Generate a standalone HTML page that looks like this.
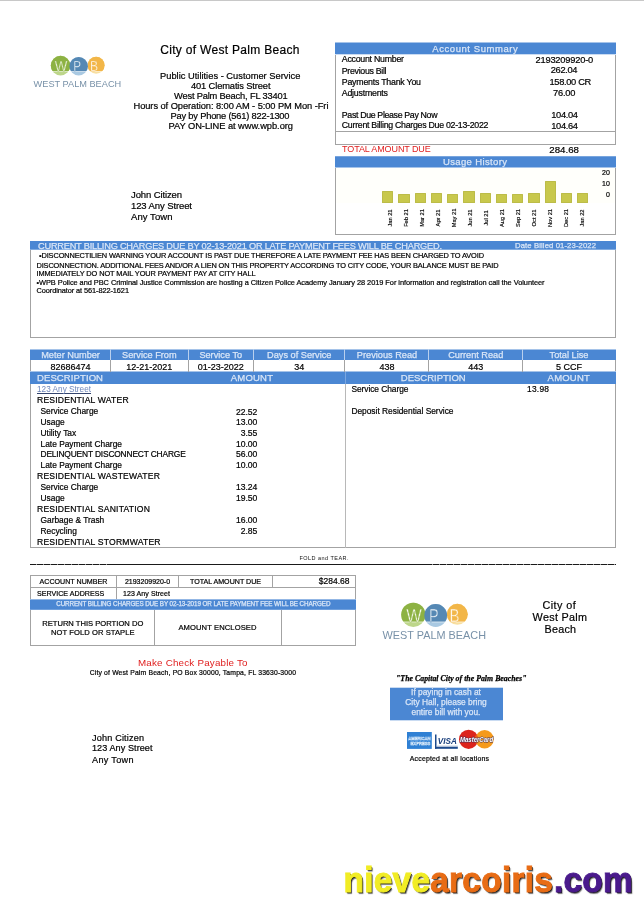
<!DOCTYPE html><html><head><meta charset="utf-8"><title>City of West Palm Beach Utility Bill</title><style>
html,body{margin:0;padding:0;background:#fff;}body{width:644px;height:915px;position:relative;overflow:hidden;font-family:"Liberation Sans",sans-serif;}
.r{position:absolute;box-sizing:border-box;}.t{position:absolute;white-space:nowrap;line-height:1;}
.wm{text-shadow:1px 1px 0 #222,1.6px 1.6px 1px rgba(0,0,0,.55);}
.k{-webkit-text-stroke:0.2px #000;}
.h{-webkit-text-stroke:0.25px #d9e6f7;}

</style></head><body>
<div class="r" style="left:0px;top:0px;width:644px;height:1px;background:#c8c8c8;"></div>
<div class="r" style="left:335px;top:43px;width:281px;height:101.5px;border:1px solid #a3a3a3;"></div>
<div class="r" style="left:335px;top:43px;width:281px;height:11px;background:#4b87d3;"></div>
<div class="r" style="left:335px;top:42px;width:281px;height:1px;background:#a5c3e9;"></div>
<div class="r" style="left:335px;top:54px;width:281px;height:1px;background:#c9dbf2;"></div>
<div class="r" style="left:335px;top:131px;width:281px;height:1px;background:#a3a3a3;"></div>
<div class="r" style="left:335px;top:156px;width:281px;height:78.5px;border:1px solid #a3a3a3;"></div>
<div class="r" style="left:335px;top:157px;width:281px;height:10px;background:#4b87d3;"></div>
<div class="r" style="left:335px;top:156px;width:281px;height:1px;background:#78a5de;"></div>
<div class="r" style="left:335px;top:167px;width:281px;height:1px;background:#a5c3e9;"></div>
<div class="r" style="left:336px;top:167.5px;width:279px;height:35px;background:#fffffb;"></div>
<div class="r" style="left:382.0px;top:190.75px;width:11.25px;height:11.75px;background:#c8c84c;border:0.5px solid #bcbc48;border-radius:0.5px;"></div>
<div class="t mon" style="left:370.50px;top:215.00px;width:40px;height:6px;font-size:5.7px;text-align:center;transform:rotate(-90deg);color:#000;-webkit-text-stroke:0.15px #000;">Jan 21</div>
<div class="r" style="left:398.25px;top:194.25px;width:11.25px;height:8.25px;background:#c8c84c;border:0.5px solid #bcbc48;border-radius:0.5px;"></div>
<div class="t mon" style="left:386.50px;top:215.00px;width:40px;height:6px;font-size:5.7px;text-align:center;transform:rotate(-90deg);color:#000;-webkit-text-stroke:0.15px #000;">Feb 21</div>
<div class="r" style="left:414.5px;top:192.5px;width:11.25px;height:10.0px;background:#c8c84c;border:0.5px solid #bcbc48;border-radius:0.5px;"></div>
<div class="t mon" style="left:402.50px;top:215.00px;width:40px;height:6px;font-size:5.7px;text-align:center;transform:rotate(-90deg);color:#000;-webkit-text-stroke:0.15px #000;">Mar 21</div>
<div class="r" style="left:430.75px;top:192.5px;width:11.25px;height:10.0px;background:#c8c84c;border:0.5px solid #bcbc48;border-radius:0.5px;"></div>
<div class="t mon" style="left:418.50px;top:215.00px;width:40px;height:6px;font-size:5.7px;text-align:center;transform:rotate(-90deg);color:#000;-webkit-text-stroke:0.15px #000;">Apr 21</div>
<div class="r" style="left:447.0px;top:194.25px;width:11.25px;height:8.25px;background:#c8c84c;border:0.5px solid #bcbc48;border-radius:0.5px;"></div>
<div class="t mon" style="left:434.50px;top:215.00px;width:40px;height:6px;font-size:5.7px;text-align:center;transform:rotate(-90deg);color:#000;-webkit-text-stroke:0.15px #000;">May 21</div>
<div class="r" style="left:463.25px;top:190.75px;width:11.25px;height:11.75px;background:#c8c84c;border:0.5px solid #bcbc48;border-radius:0.5px;"></div>
<div class="t mon" style="left:450.50px;top:215.00px;width:40px;height:6px;font-size:5.7px;text-align:center;transform:rotate(-90deg);color:#000;-webkit-text-stroke:0.15px #000;">Jun 21</div>
<div class="r" style="left:479.5px;top:192.5px;width:11.25px;height:10.0px;background:#c8c84c;border:0.5px solid #bcbc48;border-radius:0.5px;"></div>
<div class="t mon" style="left:466.50px;top:215.00px;width:40px;height:6px;font-size:5.7px;text-align:center;transform:rotate(-90deg);color:#000;-webkit-text-stroke:0.15px #000;">Jul 21</div>
<div class="r" style="left:495.75px;top:194.25px;width:11.25px;height:8.25px;background:#c8c84c;border:0.5px solid #bcbc48;border-radius:0.5px;"></div>
<div class="t mon" style="left:482.50px;top:215.00px;width:40px;height:6px;font-size:5.7px;text-align:center;transform:rotate(-90deg);color:#000;-webkit-text-stroke:0.15px #000;">Aug 21</div>
<div class="r" style="left:512.0px;top:194.25px;width:11.25px;height:8.25px;background:#c8c84c;border:0.5px solid #bcbc48;border-radius:0.5px;"></div>
<div class="t mon" style="left:498.50px;top:215.00px;width:40px;height:6px;font-size:5.7px;text-align:center;transform:rotate(-90deg);color:#000;-webkit-text-stroke:0.15px #000;">Sep 21</div>
<div class="r" style="left:528.25px;top:192.5px;width:11.25px;height:10.0px;background:#c8c84c;border:0.5px solid #bcbc48;border-radius:0.5px;"></div>
<div class="t mon" style="left:514.50px;top:215.00px;width:40px;height:6px;font-size:5.7px;text-align:center;transform:rotate(-90deg);color:#000;-webkit-text-stroke:0.15px #000;">Oct 21</div>
<div class="r" style="left:544.5px;top:181.25px;width:11.25px;height:21.25px;background:#c8c84c;border:0.5px solid #bcbc48;border-radius:0.5px;"></div>
<div class="t mon" style="left:530.50px;top:215.00px;width:40px;height:6px;font-size:5.7px;text-align:center;transform:rotate(-90deg);color:#000;-webkit-text-stroke:0.15px #000;">Nov 21</div>
<div class="r" style="left:560.75px;top:192.5px;width:11.25px;height:10.0px;background:#c8c84c;border:0.5px solid #bcbc48;border-radius:0.5px;"></div>
<div class="t mon" style="left:546.50px;top:215.00px;width:40px;height:6px;font-size:5.7px;text-align:center;transform:rotate(-90deg);color:#000;-webkit-text-stroke:0.15px #000;">Dec 21</div>
<div class="r" style="left:577.0px;top:192.5px;width:11.25px;height:10.0px;background:#c8c84c;border:0.5px solid #bcbc48;border-radius:0.5px;"></div>
<div class="t mon" style="left:562.50px;top:215.00px;width:40px;height:6px;font-size:5.7px;text-align:center;transform:rotate(-90deg);color:#000;-webkit-text-stroke:0.15px #000;">Jan 22</div>
<div class="r" style="left:30px;top:241px;width:586px;height:97px;border:1px solid #a3a3a3;"></div>
<div class="r" style="left:30px;top:241px;width:586px;height:8px;background:#4b87d3;"></div>
<div class="r" style="left:30px;top:249px;width:586px;height:1px;background:#81abe0;"></div>
<div class="r" style="left:30px;top:349px;width:586px;height:199px;border:1px solid #a3a3a3;"></div>
<div class="r" style="left:30px;top:350px;width:586px;height:10px;background:#4b87d3;"></div>
<div class="r" style="left:30px;top:349px;width:586px;height:1px;background:#a5c3e9;"></div>
<div class="r" style="left:30px;top:372px;width:586px;height:12px;background:#4b87d3;"></div>
<div class="r" style="left:30px;top:371px;width:586px;height:1px;background:#a5c3e9;"></div>
<div class="r" style="left:345px;top:384px;width:1px;height:163.5px;background:#b8b8b8;"></div>
<div class="r" style="left:345px;top:372px;width:1px;height:12px;background:#7aa6e0;"></div>
<div class="r" style="left:110px;top:349px;width:1px;height:11px;background:#b9d0ee;"></div>
<div class="r" style="left:110px;top:360px;width:1px;height:12px;background:#a3a3a3;"></div>
<div class="r" style="left:188px;top:349px;width:1px;height:11px;background:#b9d0ee;"></div>
<div class="r" style="left:188px;top:360px;width:1px;height:12px;background:#a3a3a3;"></div>
<div class="r" style="left:253px;top:349px;width:1px;height:11px;background:#b9d0ee;"></div>
<div class="r" style="left:253px;top:360px;width:1px;height:12px;background:#a3a3a3;"></div>
<div class="r" style="left:344px;top:349px;width:1px;height:11px;background:#b9d0ee;"></div>
<div class="r" style="left:344px;top:360px;width:1px;height:12px;background:#a3a3a3;"></div>
<div class="r" style="left:428px;top:349px;width:1px;height:11px;background:#b9d0ee;"></div>
<div class="r" style="left:428px;top:360px;width:1px;height:12px;background:#a3a3a3;"></div>
<div class="r" style="left:522px;top:349px;width:1px;height:11px;background:#b9d0ee;"></div>
<div class="r" style="left:522px;top:360px;width:1px;height:12px;background:#a3a3a3;"></div>
<div class="r" style="left:30px;top:564px;width:586px;height:1px;background:#1a1a1a;"></div>
<div class="r" style="left:36px;top:564px;width:1px;height:1px;background:#999;"></div>
<div class="r" style="left:43px;top:564px;width:1px;height:1px;background:#999;"></div>
<div class="r" style="left:50px;top:564px;width:1px;height:1px;background:#999;"></div>
<div class="r" style="left:57px;top:564px;width:1px;height:1px;background:#999;"></div>
<div class="r" style="left:64px;top:564px;width:1px;height:1px;background:#999;"></div>
<div class="r" style="left:71px;top:564px;width:1px;height:1px;background:#999;"></div>
<div class="r" style="left:78px;top:564px;width:1px;height:1px;background:#999;"></div>
<div class="r" style="left:85px;top:564px;width:1px;height:1px;background:#999;"></div>
<div class="r" style="left:92px;top:564px;width:1px;height:1px;background:#999;"></div>
<div class="r" style="left:99px;top:564px;width:1px;height:1px;background:#999;"></div>
<div class="r" style="left:106px;top:564px;width:1px;height:1px;background:#999;"></div>
<div class="r" style="left:432px;top:564px;width:1px;height:1px;background:#999;"></div>
<div class="r" style="left:439px;top:564px;width:1px;height:1px;background:#999;"></div>
<div class="r" style="left:446px;top:564px;width:1px;height:1px;background:#999;"></div>
<div class="r" style="left:453px;top:564px;width:1px;height:1px;background:#999;"></div>
<div class="r" style="left:460px;top:564px;width:1px;height:1px;background:#999;"></div>
<div class="r" style="left:467px;top:564px;width:1px;height:1px;background:#999;"></div>
<div class="r" style="left:474px;top:564px;width:1px;height:1px;background:#999;"></div>
<div class="r" style="left:481px;top:564px;width:1px;height:1px;background:#999;"></div>
<div class="r" style="left:488px;top:564px;width:1px;height:1px;background:#999;"></div>
<div class="r" style="left:495px;top:564px;width:1px;height:1px;background:#999;"></div>
<div class="r" style="left:502px;top:564px;width:1px;height:1px;background:#999;"></div>
<div class="r" style="left:509px;top:564px;width:1px;height:1px;background:#999;"></div>
<div class="r" style="left:516px;top:564px;width:1px;height:1px;background:#999;"></div>
<div class="r" style="left:523px;top:564px;width:1px;height:1px;background:#999;"></div>
<div class="r" style="left:530px;top:564px;width:1px;height:1px;background:#999;"></div>
<div class="r" style="left:537px;top:564px;width:1px;height:1px;background:#999;"></div>
<div class="r" style="left:544px;top:564px;width:1px;height:1px;background:#999;"></div>
<div class="r" style="left:551px;top:564px;width:1px;height:1px;background:#999;"></div>
<div class="r" style="left:558px;top:564px;width:1px;height:1px;background:#999;"></div>
<div class="r" style="left:565px;top:564px;width:1px;height:1px;background:#999;"></div>
<div class="r" style="left:572px;top:564px;width:1px;height:1px;background:#999;"></div>
<div class="r" style="left:579px;top:564px;width:1px;height:1px;background:#999;"></div>
<div class="r" style="left:586px;top:564px;width:1px;height:1px;background:#999;"></div>
<div class="r" style="left:593px;top:564px;width:1px;height:1px;background:#999;"></div>
<div class="r" style="left:600px;top:564px;width:1px;height:1px;background:#999;"></div>
<div class="r" style="left:607px;top:564px;width:1px;height:1px;background:#999;"></div>
<div class="r" style="left:614px;top:564px;width:1px;height:1px;background:#999;"></div>
<div class="r" style="left:30px;top:575px;width:326px;height:71px;border:1px solid #a3a3a3;"></div>
<div class="r" style="left:30px;top:587px;width:326px;height:1px;background:#a3a3a3;"></div>
<div class="r" style="left:30px;top:600px;width:326px;height:9px;background:#4b87d3;"></div>
<div class="r" style="left:30px;top:599px;width:326px;height:1px;background:#93b7e5;"></div>
<div class="r" style="left:30px;top:609px;width:326px;height:1px;background:#6f9fdc;"></div>
<div class="r" style="left:116px;top:575px;width:1px;height:12px;background:#a3a3a3;"></div>
<div class="r" style="left:178px;top:575px;width:1px;height:12px;background:#a3a3a3;"></div>
<div class="r" style="left:272px;top:575px;width:1px;height:12px;background:#a3a3a3;"></div>
<div class="r" style="left:116px;top:587px;width:1px;height:12px;background:#a3a3a3;"></div>
<div class="r" style="left:154px;top:610px;width:1px;height:35.5px;background:#a3a3a3;"></div>
<div class="r" style="left:281px;top:610px;width:1px;height:35.5px;background:#a3a3a3;"></div>
<div class="r" style="left:390px;top:688px;width:112.8px;height:32px;background:#4b87d3;"></div>
<div class="r" style="left:390px;top:687px;width:112.8px;height:1px;background:#c9dbf2;"></div>
<div class="r" style="left:390px;top:720px;width:112.8px;height:1px;background:#c9dbf2;"></div>
<svg class="r" style="left:382.5px;top:600px;overflow:visible" width="110.0" height="45.0" viewBox="0 0 110 45">
<defs><clipPath id="cla"><rect x="0" y="-2" width="110" height="23.9"/></clipPath></defs>
<g transform="">
<circle cx="30.3" cy="14.8" r="12.1" fill="#bdd68a"/><circle cx="52.7" cy="15.5" r="11.4" fill="#a9c9e2"/><circle cx="74.3" cy="14.3" r="10.5" fill="#f8dfa0"/>
<g clip-path="url(#cla)"><circle cx="30.3" cy="14.8" r="12.1" fill="#8db243"/><circle cx="74.3" cy="14.3" r="10.5" fill="#f2b648"/><circle cx="52.7" cy="15.5" r="11.4" fill="#5588b4"/></g>
<rect x="18" y="21.6" width="67" height="0.7" fill="#fff" opacity="0.9"/>
<g font-family="'Liberation Sans', sans-serif" font-size="18.4" fill="#fff" fill-opacity="0.95" stroke-width="0.45">
<text x="23.2" y="21.9" textLength="15.6" lengthAdjust="spacingAndGlyphs" stroke="#8db243">W</text><text x="46.0" y="21.9" textLength="9.6" lengthAdjust="spacingAndGlyphs" stroke="#5588b4">P</text><text x="66.6" y="21.9" textLength="10" lengthAdjust="spacingAndGlyphs" stroke="#f2b648">B</text></g>
</g>
<text x="-0.5" y="39.2" font-family="'Liberation Sans', sans-serif" font-size="11.4" fill="#7891a8" textLength="103.5" lengthAdjust="spacingAndGlyphs">WEST PALM BEACH</text>
</svg>
<svg class="r" style="left:33.5px;top:53.8px;overflow:visible" width="93.1" height="38.1" viewBox="0 0 110 45">
<defs><clipPath id="clb"><rect x="0" y="-2" width="110" height="23.9"/></clipPath></defs>
<g transform="translate(0.1,-1.1) translate(52,15) scale(0.955) translate(-52,-15)">
<circle cx="30.3" cy="14.8" r="12.1" fill="#bdd68a"/><circle cx="52.7" cy="15.5" r="11.4" fill="#a9c9e2"/><circle cx="74.3" cy="14.3" r="10.5" fill="#f8dfa0"/>
<g clip-path="url(#clb)"><circle cx="30.3" cy="14.8" r="12.1" fill="#8db243"/><circle cx="74.3" cy="14.3" r="10.5" fill="#f2b648"/><circle cx="52.7" cy="15.5" r="11.4" fill="#5588b4"/></g>
<rect x="18" y="21.6" width="67" height="0.7" fill="#fff" opacity="0.9"/>
<g font-family="'Liberation Sans', sans-serif" font-size="18.4" fill="#fff" fill-opacity="0.95" stroke-width="0.45">
<text x="23.2" y="21.9" textLength="15.6" lengthAdjust="spacingAndGlyphs" stroke="#8db243">W</text><text x="46.0" y="21.9" textLength="9.6" lengthAdjust="spacingAndGlyphs" stroke="#5588b4">P</text><text x="66.6" y="21.9" textLength="10" lengthAdjust="spacingAndGlyphs" stroke="#f2b648">B</text></g>
</g>
<text x="-0.5" y="39.2" font-family="'Liberation Sans', sans-serif" font-size="11.4" fill="#7891a8" textLength="103.5" lengthAdjust="spacingAndGlyphs">WEST PALM BEACH</text>
</svg>
<svg class="r" style="left:405px;top:727px;overflow:visible" width="95" height="26" viewBox="405 727 95 26">
<rect x="407" y="732" width="24.8" height="16.9" fill="#2f80d4"/>
<g font-family="'Liberation Sans', sans-serif" font-weight="bold" font-size="4.4" fill="#2f80d4" stroke="#dcebfa" stroke-width="0.45"><text x="408.2" y="740.2" textLength="22.4" lengthAdjust="spacingAndGlyphs">AMERICAN</text><text x="410.6" y="745" textLength="19.6" lengthAdjust="spacingAndGlyphs">EXPRESS</text></g>
<rect x="435" y="733.5" width="22.8" height="15.3" fill="#fff"/>
<rect x="435" y="734.5" width="1.5" height="14.3" fill="#1d4a8c"/><rect x="435" y="746.6" width="22.8" height="2.2" fill="#1d4a8c"/>
<rect x="436.5" y="745.6" width="21.3" height="0.9" fill="#b9c6da"/>
<text x="437.8" y="744.2" font-family="'Liberation Sans', sans-serif" font-weight="bold" font-style="italic" font-size="9.8" fill="#1c417e" textLength="19" lengthAdjust="spacingAndGlyphs">VISA</text>
<circle cx="468.6" cy="739.3" r="9.6" fill="#dc241c"/><circle cx="484.6" cy="739.3" r="9.2" fill="#f59a1c"/>
<path d="M476.4 733.9 A9.6 9.6 0 0 1 476.4 744.7 A9.2 9.2 0 0 1 476.4 733.9Z" fill="#ea5a1c"/>
<text x="459.9" y="742.2" font-family="'Liberation Sans', sans-serif" font-weight="bold" font-style="italic" font-size="7.2" fill="#fff" stroke="#40305a" stroke-width="0.9" paint-order="stroke" textLength="33.2" lengthAdjust="spacingAndGlyphs">MasterCard</text>
</svg>
<div class="t wm" style="left:343.5px;top:863.5px;font-size:33.5px;font-weight:bold;letter-spacing:0.22px;transform:scaleY(1.04);transform-origin:0 28.36px;"><span style="color:#f1ec25;-webkit-text-stroke:0.9px #f1ec25">nieve</span><span style="color:#e86c15;-webkit-text-stroke:0.9px #e86c15">arcoiris</span><span style="color:#4a1a8c;-webkit-text-stroke:0.9px #4a1a8c;margin-left:0.8px">.com</span></div>
<div class="t k" id="t0" style="top:44.00px;font-size:12px;color:#000;letter-spacing:0.300px;left:160.30px;"><span>City of West Palm Beach</span></div>
<div class="t k" id="t1" style="top:72.00px;font-size:9.3px;color:#000;letter-spacing:0.011px;left:160.00px;"><span>Public Utilities - Customer Service</span></div>
<div class="t k" id="t2" style="top:82.00px;font-size:9.3px;color:#000;letter-spacing:-0.120px;left:191.00px;"><span>401 Clematis Street</span></div>
<div class="t k" id="t3" style="top:92.00px;font-size:9.3px;color:#000;letter-spacing:-0.176px;left:174.00px;"><span>West Palm Beach, FL 33401</span></div>
<div class="t k" id="t4" style="top:102.00px;font-size:9.3px;color:#000;letter-spacing:-0.065px;left:133.50px;"><span>Hours of Operation: 8:00 AM - 5:00 PM Mon -Fri</span></div>
<div class="t k" id="t5" style="top:112.00px;font-size:9.3px;color:#000;letter-spacing:-0.194px;left:170.50px;"><span>Pay by Phone (561) 822-1300</span></div>
<div class="t k" id="t6" style="top:122.00px;font-size:9.3px;color:#000;letter-spacing:-0.043px;left:168.50px;"><span>PAY ON-LINE at www.wpb.org</span></div>
<div class="t k" id="t7" style="top:190.00px;font-size:9.5px;color:#000;letter-spacing:-0.116px;left:131.00px;"><span>John Citizen</span></div>
<div class="t k" id="t8" style="top:201.00px;font-size:9.5px;color:#000;letter-spacing:-0.102px;left:131.00px;"><span>123 Any Street</span></div>
<div class="t k" id="t9" style="top:212.00px;font-size:9.5px;color:#000;letter-spacing:0.069px;left:131.00px;"><span>Any Town</span></div>
<div class="t h" id="t10" style="top:44.00px;font-size:9.5px;color:#d9e6f7;letter-spacing:0.562px;left:432.30px;"><span>Account Summary</span></div>
<div class="t k" id="t11" style="top:55.00px;font-size:8.8px;color:#000;letter-spacing:-0.256px;left:341.80px;"><span>Account Number</span></div>
<div class="t k" id="t12" style="top:67.00px;font-size:8.8px;color:#000;letter-spacing:-0.309px;left:341.80px;"><span>Previous Bill</span></div>
<div class="t k" id="t13" style="top:78.00px;font-size:8.8px;color:#000;letter-spacing:-0.223px;left:341.80px;"><span>Payments Thank You</span></div>
<div class="t k" id="t14" style="top:89.00px;font-size:8.8px;color:#000;letter-spacing:-0.221px;left:341.80px;"><span>Adjustments</span></div>
<div class="t k" id="t15" style="top:111.00px;font-size:8.8px;color:#000;letter-spacing:-0.340px;left:341.80px;"><span>Past Due Please Pay Now</span></div>
<div class="t k" id="t16" style="top:121.00px;font-size:8.8px;color:#000;letter-spacing:-0.278px;left:341.80px;"><span>Current Billing Charges Due 02-13-2022</span></div>
<div class="t k" id="t17" style="top:56.00px;font-size:9.3px;color:#000;letter-spacing:-0.203px;left:535.50px;"><span>2193209920-0</span></div>
<div class="t k" id="t18" style="top:66.00px;font-size:9.3px;color:#000;letter-spacing:-0.338px;left:550.75px;"><span>262.04</span></div>
<div class="t k" id="t19" style="top:78.00px;font-size:9.3px;color:#000;letter-spacing:-0.338px;left:549.50px;"><span>158.00 CR</span></div>
<div class="t k" id="t20" style="top:89.00px;font-size:9.3px;color:#000;letter-spacing:-0.191px;left:553.00px;"><span>76.00</span></div>
<div class="t k" id="t21" style="top:111.00px;font-size:9.3px;color:#000;letter-spacing:-0.338px;left:551.25px;"><span>104.04</span></div>
<div class="t k" id="t22" style="top:122.00px;font-size:9.3px;color:#000;letter-spacing:-0.338px;left:551.25px;"><span>104.64</span></div>
<div class="t" id="t23" style="top:145.00px;font-size:9px;color:#e02020;letter-spacing:-0.096px;left:342.00px;"><span>TOTAL AMOUNT DUE</span></div>
<div class="t k" id="t24" style="top:145.00px;font-size:9.7px;color:#000;letter-spacing:0.022px;left:549.25px;"><span>284.68</span></div>
<div class="t h" id="t25" style="top:157.00px;font-size:9.5px;color:#d9e6f7;letter-spacing:0.361px;left:443.00px;"><span>Usage History</span></div>
<div class="t k" id="t26" style="top:169.00px;font-size:7px;color:#000;left:602.00px;"><span>20</span></div>
<div class="t k" id="t27" style="top:180.00px;font-size:7px;color:#000;left:602.00px;"><span>10</span></div>
<div class="t k" id="t28" style="top:191.00px;font-size:7px;color:#000;left:606.00px;"><span>0</span></div>
<div class="t h" id="t29" style="top:241.51px;font-size:9.2px;color:#d9e6f7;letter-spacing:-0.197px;left:38.00px;"><span>CURRENT BILLING CHARGES DUE BY 02-13-2021 OR LATE PAYMENT FEES WILL BE CHARGED.</span></div>
<div class="t h" id="t30" style="top:242.48px;font-size:7.7px;color:#d9e6f7;letter-spacing:0.112px;left:515.00px;"><span>Date Billed 01-23-2022</span></div>
<div class="t k" id="t31" style="top:252.00px;font-size:7.4px;color:#000;letter-spacing:-0.120px;left:39.00px;"><span>•DISCONNECTILIEN WARNING YOUR ACCOUNT IS PAST DUE THEREFORE A LATE PAYMENT FEE HAS BEEN CHARGED TO AVOID</span></div>
<div class="t k" id="t32" style="top:262.00px;font-size:7.4px;color:#000;letter-spacing:-0.136px;left:36.50px;"><span>DISCONNECTION. ADDITIONAL FEES AND/OR A LIEN ON THIS PROPERTY ACCORDING TO CITY CODE, YOUR BALANCE MUST BE PAID</span></div>
<div class="t k" id="t33" style="top:270.00px;font-size:7.4px;color:#000;letter-spacing:-0.090px;left:36.50px;"><span>IMMEDIATELY DO NOT MAIL YOUR PAYMENT PAY AT CITY HALL</span></div>
<div class="t k" id="t34" style="top:279.00px;font-size:7.4px;color:#000;letter-spacing:-0.045px;left:36.50px;"><span>•WPB Police and PBC Criminal Justice Commission are hosting a Citizen Police Academy January 28 2019 For information and registration call the Volunteer</span></div>
<div class="t k" id="t35" style="top:287.00px;font-size:7.4px;color:#000;letter-spacing:-0.093px;left:36.50px;"><span>Coordinator at 561-822-1621</span></div>
<div class="t h" id="t36" style="top:351.00px;font-size:9.2px;color:#d9e6f7;left:-79.45px;width:300px;text-align:center;"><span>Meter Number</span></div>
<div class="t k" id="t37" style="top:363.00px;font-size:9.0px;color:#000;left:-79.45px;width:300px;text-align:center;"><span>82686474</span></div>
<div class="t h" id="t38" style="top:351.00px;font-size:9.2px;color:#d9e6f7;left:-0.70px;width:300px;text-align:center;"><span>Service From</span></div>
<div class="t k" id="t39" style="top:363.00px;font-size:9.0px;color:#000;left:-0.70px;width:300px;text-align:center;"><span>12-21-2021</span></div>
<div class="t h" id="t40" style="top:351.00px;font-size:9.2px;color:#d9e6f7;left:70.75px;width:300px;text-align:center;"><span>Service To</span></div>
<div class="t k" id="t41" style="top:363.00px;font-size:9.0px;color:#000;left:70.75px;width:300px;text-align:center;"><span>01-23-2022</span></div>
<div class="t h" id="t42" style="top:351.00px;font-size:9.2px;color:#d9e6f7;left:149.25px;width:300px;text-align:center;"><span>Days of Service</span></div>
<div class="t k" id="t43" style="top:363.00px;font-size:9.0px;color:#000;left:149.25px;width:300px;text-align:center;"><span>34</span></div>
<div class="t h" id="t44" style="top:351.00px;font-size:9.2px;color:#d9e6f7;left:237.00px;width:300px;text-align:center;"><span>Previous Read</span></div>
<div class="t k" id="t45" style="top:363.00px;font-size:9.0px;color:#000;left:237.00px;width:300px;text-align:center;"><span>438</span></div>
<div class="t h" id="t46" style="top:351.00px;font-size:9.2px;color:#d9e6f7;left:325.75px;width:300px;text-align:center;"><span>Current Read</span></div>
<div class="t k" id="t47" style="top:363.00px;font-size:9.0px;color:#000;left:325.75px;width:300px;text-align:center;"><span>443</span></div>
<div class="t h" id="t48" style="top:351.00px;font-size:9.2px;color:#d9e6f7;left:419.00px;width:300px;text-align:center;"><span>Total Lise</span></div>
<div class="t k" id="t49" style="top:363.00px;font-size:9.0px;color:#000;left:419.00px;width:300px;text-align:center;"><span>5 CCF</span></div>
<div class="t h" id="t50" style="top:373.00px;font-size:9.5px;color:#d9e6f7;letter-spacing:0.106px;left:37.00px;"><span>DESCRIPTION</span></div>
<div class="t h" id="t51" style="top:373.00px;font-size:9.5px;color:#d9e6f7;letter-spacing:0.206px;left:230.80px;"><span>AMOUNT</span></div>
<div class="t h" id="t52" style="top:373.00px;font-size:9.5px;color:#d9e6f7;letter-spacing:-0.004px;left:400.80px;"><span>DESCRIPTION</span></div>
<div class="t h" id="t53" style="top:373.00px;font-size:9.5px;color:#d9e6f7;letter-spacing:0.206px;left:547.60px;"><span>AMOUNT</span></div>
<div class="t" id="t54" style="top:386.00px;font-size:8.2px;color:#6f87bb;letter-spacing:0.022px;left:37.00px;text-decoration:underline;text-decoration-color:#33446e;text-underline-offset:0.6px;text-decoration-thickness:0.7px;text-decoration-skip-ink:none;"><span>123 Any Street</span></div>
<div class="t k" id="t55" style="top:396.00px;font-size:8.6px;color:#000;left:37.00px;letter-spacing:0.2px;"><span>RESIDENTIAL WATER</span></div>
<div class="t k" id="t56" style="top:407.00px;font-size:8.4px;color:#000;left:40.50px;"><span>Service Charge</span></div>
<div class="t k" id="t57" style="top:408.00px;font-size:8.6px;color:#000;left:-42.60px;width:300px;text-align:right;"><span>22.52</span></div>
<div class="t k" id="t58" style="top:418.00px;font-size:8.4px;color:#000;left:40.50px;"><span>Usage</span></div>
<div class="t k" id="t59" style="top:418.00px;font-size:8.6px;color:#000;left:-42.60px;width:300px;text-align:right;"><span>13.00</span></div>
<div class="t k" id="t60" style="top:429.00px;font-size:8.4px;color:#000;left:40.50px;"><span>Utility Tax</span></div>
<div class="t k" id="t61" style="top:429.00px;font-size:8.6px;color:#000;left:-42.60px;width:300px;text-align:right;"><span>3.55</span></div>
<div class="t k" id="t62" style="top:440.00px;font-size:8.4px;color:#000;left:40.50px;"><span>Late Payment Charge</span></div>
<div class="t k" id="t63" style="top:440.00px;font-size:8.6px;color:#000;left:-42.60px;width:300px;text-align:right;"><span>10.00</span></div>
<div class="t k" id="t64" style="top:450.00px;font-size:8.4px;color:#000;letter-spacing:-0.160px;left:40.50px;"><span>DELINQUENT DISCONNECT CHARGE</span></div>
<div class="t k" id="t65" style="top:450.00px;font-size:8.6px;color:#000;left:-42.60px;width:300px;text-align:right;"><span>56.00</span></div>
<div class="t k" id="t66" style="top:461.00px;font-size:8.4px;color:#000;left:40.50px;"><span>Late Payment Charge</span></div>
<div class="t k" id="t67" style="top:461.00px;font-size:8.6px;color:#000;left:-42.60px;width:300px;text-align:right;"><span>10.00</span></div>
<div class="t k" id="t68" style="top:472.00px;font-size:8.6px;color:#000;left:37.00px;letter-spacing:0.2px;"><span>RESIDENTIAL WASTEWATER</span></div>
<div class="t k" id="t69" style="top:483.00px;font-size:8.4px;color:#000;left:40.50px;"><span>Service Charge</span></div>
<div class="t k" id="t70" style="top:483.00px;font-size:8.6px;color:#000;left:-42.60px;width:300px;text-align:right;"><span>13.24</span></div>
<div class="t k" id="t71" style="top:494.00px;font-size:8.4px;color:#000;left:40.50px;"><span>Usage</span></div>
<div class="t k" id="t72" style="top:494.00px;font-size:8.6px;color:#000;left:-42.60px;width:300px;text-align:right;"><span>19.50</span></div>
<div class="t k" id="t73" style="top:505.00px;font-size:8.6px;color:#000;left:37.00px;letter-spacing:0.2px;"><span>RESIDENTIAL SANITATION</span></div>
<div class="t k" id="t74" style="top:516.00px;font-size:8.4px;color:#000;left:40.50px;"><span>Garbage &amp; Trash</span></div>
<div class="t k" id="t75" style="top:516.00px;font-size:8.6px;color:#000;left:-42.60px;width:300px;text-align:right;"><span>16.00</span></div>
<div class="t k" id="t76" style="top:527.00px;font-size:8.4px;color:#000;left:40.50px;"><span>Recycling</span></div>
<div class="t k" id="t77" style="top:527.00px;font-size:8.6px;color:#000;left:-42.60px;width:300px;text-align:right;"><span>2.85</span></div>
<div class="t k" id="t78" style="top:538.00px;font-size:8.6px;color:#000;left:37.00px;letter-spacing:0.2px;"><span>RESIDENTIAL STORMWATER</span></div>
<div class="t k" id="t79" style="top:385.00px;font-size:8.4px;color:#000;letter-spacing:-0.049px;left:351.40px;"><span>Service Charge</span></div>
<div class="t k" id="t80" style="top:385.00px;font-size:8.4px;color:#000;letter-spacing:0.258px;left:527.00px;"><span>13.98</span></div>
<div class="t k" id="t81" style="top:407.00px;font-size:8.4px;color:#000;letter-spacing:-0.012px;left:351.40px;"><span>Deposit Residential Service</span></div>
<div class="t" id="t82" style="top:556.00px;font-size:5.5px;color:#111;letter-spacing:0.462px;left:299.50px;"><span>FOLD and TEAR.</span></div>
<div class="t k" id="t83" style="top:579.00px;font-size:7.1px;color:#000;letter-spacing:0.018px;left:39.50px;"><span>ACCOUNT NUMBER</span></div>
<div class="t k" id="t84" style="top:578.00px;font-size:7px;color:#000;left:-2.50px;width:300px;text-align:center;"><span>2193209920-0</span></div>
<div class="t k" id="t85" style="top:579.00px;font-size:7.1px;color:#000;left:75.50px;width:300px;text-align:center;"><span>TOTAL AMOUNT DUE</span></div>
<div class="t k" id="t86" style="top:577.00px;font-size:8.5px;color:#000;left:49.50px;width:300px;text-align:right;"><span>$284.68</span></div>
<div class="t k" id="t87" style="top:591.00px;font-size:7.1px;color:#000;letter-spacing:0.029px;left:36.90px;"><span>SERVICE ADDRESS</span></div>
<div class="t k" id="t88" style="top:590.00px;font-size:7px;color:#000;letter-spacing:0.083px;left:123.00px;"><span>123 Any Street</span></div>
<div class="t h" id="t89" style="top:601.00px;font-size:6.3px;color:#d9e6f7;letter-spacing:-0.094px;left:56.20px;"><span>CURRENT BILLING CHARGES DUE BY 02-13-2019 OR LATE PAYMENT FEE WILL BE CHARGED</span></div>
<div class="t k" id="t90" style="top:620.00px;font-size:7.6px;color:#000;letter-spacing:0.006px;left:42.20px;"><span>RETURN THIS PORTION DO</span></div>
<div class="t k" id="t91" style="top:629.00px;font-size:7.6px;color:#000;letter-spacing:0.074px;left:50.90px;"><span>NOT FOLD OR STAPLE</span></div>
<div class="t k" id="t92" style="top:624.00px;font-size:7.6px;color:#000;left:67.50px;width:300px;text-align:center;letter-spacing:0.1px;"><span>AMOUNT ENCLOSED</span></div>
<div class="t" id="t93" style="top:658.00px;font-size:9.8px;color:#e02020;letter-spacing:0.202px;left:138.00px;"><span>Make Check Payable To</span></div>
<div class="t k" id="t94" style="top:670.00px;font-size:6.8px;color:#000;letter-spacing:0.165px;left:89.70px;"><span>City of West Palm Beach, PO Box 30000, Tampa, FL 33630-3000</span></div>
<div class="t k" id="t95" style="top:600.00px;font-size:10.8px;color:#000;letter-spacing:0.448px;left:542.40px;"><span>City of</span></div>
<div class="t k" id="t96" style="top:612.00px;font-size:10.8px;color:#000;letter-spacing:0.300px;left:532.60px;"><span>West Palm</span></div>
<div class="t k" id="t97" style="top:624.00px;font-size:10.8px;color:#000;letter-spacing:0.219px;left:544.60px;"><span>Beach</span></div>
<div class="t k" id="t98" style="top:675.00px;font-size:7.8px;color:#000;font-weight:bold;font-style:italic;font-family:'Liberation Serif', serif;letter-spacing:0.027px;left:396.00px;-webkit-text-stroke:0.25px #000;"><span>&quot;The Capital City of the Palm Beaches&quot;</span></div>
<div class="t h" id="t99" style="top:688.00px;font-size:8.4px;color:#d9e6f7;left:296.00px;width:300px;text-align:center;"><span>If paying in cash at</span></div>
<div class="t h" id="t100" style="top:698.00px;font-size:8.4px;color:#d9e6f7;left:296.00px;width:300px;text-align:center;"><span>City Hall, please bring</span></div>
<div class="t h" id="t101" style="top:708.00px;font-size:8.4px;color:#d9e6f7;left:296.00px;width:300px;text-align:center;"><span>entire bill with you.</span></div>
<div class="t k" id="t102" style="top:756.00px;font-size:6.9px;color:#000;letter-spacing:0.204px;left:409.80px;"><span>Accepted at all locations</span></div>
<div class="t k" id="t103" style="top:734.00px;font-size:9.1px;color:#000;letter-spacing:0.178px;left:92.00px;"><span>John Citizen</span></div>
<div class="t k" id="t104" style="top:744.00px;font-size:9.1px;color:#000;letter-spacing:0.065px;left:92.00px;"><span>123 Any Street</span></div>
<div class="t k" id="t105" style="top:756.00px;font-size:9.1px;color:#000;letter-spacing:0.319px;left:92.00px;"><span>Any Town</span></div>
</body></html>
